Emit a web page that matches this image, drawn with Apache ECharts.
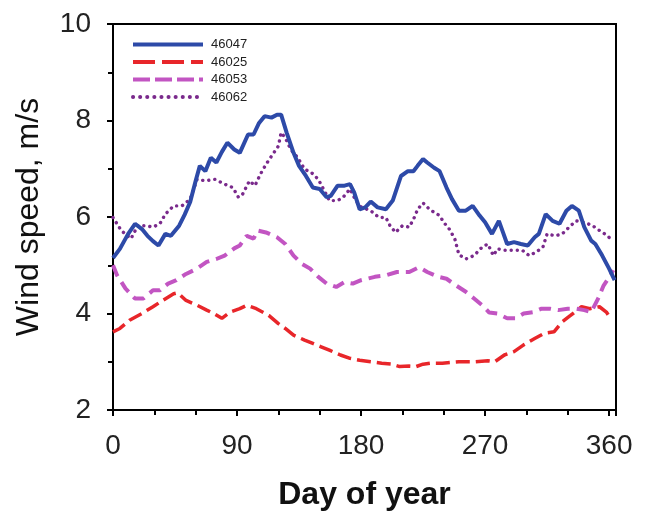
<!DOCTYPE html>
<html>
<head>
<meta charset="utf-8">
<style>
  html, body { margin: 0; padding: 0; background: #fff; }
  #chart { width: 645px; height: 516px; }
</style>
<script src="https://cdn.jsdelivr.net/npm/echarts@6/dist/echarts.min.js"></script>
</head>
<body>
<div id="chart"></div>
<script>
// station names
const stations = ['46047', '46025', '46053', '46062']

// 46047
const days46047 = [0, 5, 11, 16, 21, 25, 29, 33, 38, 42, 48, 52, 56, 60, 63, 67, 71, 75, 79, 83, 88, 92, 98, 102, 106, 110, 115, 119, 122, 126, 131, 135, 140, 145, 150, 155, 158, 163, 168, 172, 175, 179, 183, 187, 192, 198, 203, 209, 214, 218, 221, 225, 228, 233, 237, 242, 246, 251, 256, 261, 266, 270, 275, 280, 283, 286, 291, 296, 301, 306, 309, 314, 319, 324, 329, 333, 338, 342, 347, 350, 355, 360, 364]
const speed46047 = [5.15, 5.34, 5.65, 5.86, 5.75, 5.61, 5.5, 5.41, 5.65, 5.61, 5.82, 6.05, 6.31, 6.75, 7.06, 6.95, 7.23, 7.13, 7.35, 7.54, 7.4, 7.33, 7.71, 7.71, 7.95, 8.09, 8.06, 8.12, 8.12, 7.75, 7.33, 7.06, 6.85, 6.61, 6.58, 6.41, 6.44, 6.65, 6.65, 6.68, 6.51, 6.16, 6.2, 6.32, 6.2, 6.16, 6.34, 6.85, 6.95, 6.95, 7.06, 7.2, 7.13, 7.02, 6.95, 6.61, 6.37, 6.13, 6.13, 6.23, 6.03, 5.89, 5.65, 5.92, 5.68, 5.44, 5.48, 5.44, 5.41, 5.58, 5.65, 6.06, 5.92, 5.86, 6.13, 6.23, 6.13, 5.79, 5.51, 5.44, 5.2, 4.93, 4.69]

// 46025
const days46025 = [0, 5, 12, 21, 29, 36, 44, 47, 53, 61, 68, 73, 79, 85, 92, 97, 104, 113, 120, 125, 131, 139, 145, 151, 157, 165, 172, 179, 187, 195, 202, 208, 215, 220, 225, 230, 239, 251, 263, 272, 277, 284, 291, 298, 306, 313, 320, 326, 332, 340, 346, 353, 358, 361]
const speed46025 = [3.62, 3.69, 3.86, 4.0, 4.14, 4.27, 4.41, 4.43, 4.27, 4.17, 4.07, 4.0, 3.9, 4.03, 4.1, 4.17, 4.1, 3.96, 3.79, 3.69, 3.55, 3.45, 3.38, 3.31, 3.24, 3.14, 3.07, 3.03, 3.0, 2.97, 2.95, 2.9, 2.91, 2.9, 2.95, 2.97, 2.97, 3.0, 3.0, 3.02, 3.0, 3.14, 3.21, 3.35, 3.48, 3.59, 3.62, 3.83, 3.96, 4.14, 4.1, 4.14, 4.03, 3.9]

// 46053
const days46053 = [0, 3, 9, 16, 22, 29, 34, 40, 46, 53, 61, 68, 75, 81, 88, 92, 97, 102, 105, 111, 119, 125, 131, 137, 143, 149, 155, 162, 168, 174, 180, 190, 198, 206, 215, 222, 228, 236, 242, 249, 256, 262, 268, 273, 279, 286, 292, 298, 305, 311, 317, 323, 330, 336, 342, 347, 352, 356, 361, 363]
const speed46053 = [5.0, 4.79, 4.52, 4.31, 4.31, 4.48, 4.48, 4.62, 4.69, 4.82, 4.93, 5.07, 5.13, 5.2, 5.35, 5.41, 5.61, 5.55, 5.72, 5.68, 5.58, 5.44, 5.2, 5.03, 4.93, 4.76, 4.62, 4.55, 4.65, 4.62, 4.69, 4.76, 4.79, 4.86, 4.86, 4.96, 4.86, 4.76, 4.72, 4.58, 4.45, 4.31, 4.17, 4.02, 4.0, 3.9, 3.9, 4.0, 4.03, 4.1, 4.1, 4.07, 4.1, 4.1, 4.07, 4.03, 4.31, 4.58, 4.79, 4.9]

// 46062
const days46062 = [0, 6, 13, 18, 24, 29, 34, 38, 44, 50, 56, 61, 67, 74, 81, 87, 91, 94, 99, 103, 107, 111, 115, 120, 122, 125, 129, 134, 139, 144, 149, 154, 157, 163, 167, 172, 175, 179, 187, 193, 198, 201, 205, 210, 215, 219, 221, 225, 230, 237, 240, 244, 248, 251, 256, 262, 268, 272, 276, 279, 284, 291, 297, 302, 307, 312, 315, 321, 326, 331, 336, 342, 348, 353, 359, 362]
const speed46062 = [5.99, 5.72, 5.55, 5.82, 5.82, 5.79, 5.86, 6.06, 6.23, 6.23, 6.37, 6.78, 6.75, 6.78, 6.68, 6.61, 6.41, 6.47, 6.75, 6.65, 6.89, 7.09, 7.26, 7.47, 7.75, 7.64, 7.4, 7.23, 6.99, 6.92, 6.78, 6.51, 6.34, 6.34, 6.41, 6.58, 6.41, 6.22, 6.13, 5.99, 5.99, 5.82, 5.68, 5.82, 5.79, 6.01, 6.16, 6.29, 6.15, 6.03, 5.89, 5.75, 5.55, 5.22, 5.13, 5.2, 5.38, 5.44, 5.2, 5.34, 5.31, 5.31, 5.31, 5.2, 5.27, 5.38, 5.65, 5.61, 5.65, 5.79, 5.92, 5.89, 5.82, 5.72, 5.61, 5.51]

const xTicks = [0, 90, 180, 270, 360]

const pairs = (xs, ys) => xs.map((d, i) => [d, ys[i]])
const font = 'Arial, "Liberation Sans", sans-serif'

const chart = echarts.init(document.getElementById('chart'))

chart.setOption({
  animation: false,
  backgroundColor: '#fff',
  grid: {
    left: 113,
    right: 29,
    top: 24,
    bottom: 103,
    show: true,
    borderColor: '#000',
    borderWidth: 2
  },
  legend: {
    orient: 'vertical',
    left: 126,
    top: 33,
    itemWidth: 70,
    itemHeight: 12,
    itemGap: 4.5,
    itemStyle: { opacity: 0 },  // hide the circle marker, keep the line
    data: [
      { name: '46047', lineStyle: { width: 4 } },
      { name: '46025', lineStyle: { width: 4, type: [22, 7] } },
      { name: '46053', lineStyle: { width: 4, type: [17, 5] } },
      { name: '46062', lineStyle: { width: 4, type: [0.1, 7], cap: 'round' } }
    ],
    textStyle: {
      fontFamily: font,
      fontSize: 13,
      color: '#222',
      padding: [0, 0, 0, 3]
    }
  },
  xAxis: {
    type: 'value',
    min: 0,
    max: 365,
    interval: 90,
    name: 'Day of year',
    nameLocation: 'middle',
    nameGap: 69,
    nameTextStyle: { fontFamily: font, fontSize: 32, fontWeight: 'bold', color: '#111' },
    axisLine: { onZero: false, lineStyle: { color: '#000', width: 2 } },
    axisTick: { length: 6, lineStyle: { color: '#000', width: 2 } },
    minorTick: { show: true, splitNumber: 3, length: 5, lineStyle: { color: '#000', width: 2 } },
    splitLine: { show: false },
    axisLabel: {
      fontFamily: font,
      fontSize: 28,
      color: '#222',
      margin: 22,
      showMaxLabel: false,
      formatter: v => (xTicks.includes(v) ? String(v) : '')
    }
  },
  yAxis: {
    type: 'value',
    min: 2,
    max: 10,
    interval: 2,
    name: 'Wind speed, m/s',
    nameLocation: 'middle',
    nameRotate: 90,
    nameGap: 68,
    nameTextStyle: { fontFamily: font, fontSize: 32, color: '#111' },
    axisLine: { onZero: false, lineStyle: { color: '#000', width: 2 } },
    axisTick: { length: 6, lineStyle: { color: '#000', width: 2 } },
    minorTick: { show: true, splitNumber: 2, length: 5, lineStyle: { color: '#000', width: 2 } },
    splitLine: { show: false },
    axisLabel: { fontFamily: font, fontSize: 28, color: '#222', margin: 22 }
  },
  series: [{
    name: '46047',
    type: 'line',
    symbol: 'none',
    z: 5,
    lineStyle: { color: '#2d4aa8', width: 4 },
    itemStyle: { color: '#2d4aa8' },
    data: pairs(days46047, speed46047)
  }, {
    name: '46025',
    type: 'line',
    symbol: 'none',
    lineStyle: { color: '#e8262a', width: 3.5, type: [14, 6] },
    itemStyle: { color: '#e8262a' },
    data: pairs(days46025, speed46025)
  }, {
    name: '46053',
    type: 'line',
    symbol: 'none',
    lineStyle: { color: '#c255c2', width: 4, type: [12, 7] },
    itemStyle: { color: '#c255c2' },
    data: pairs(days46053, speed46053)
  }, {
    name: '46062',
    type: 'line',
    symbol: 'none',
    lineStyle: { color: '#7a2a8c', width: 3.4, type: [0.1, 6], cap: 'round' },
    itemStyle: { color: '#7a2a8c' },
    data: pairs(days46062, speed46062)
  }]
})
</script>
</body>
</html>
